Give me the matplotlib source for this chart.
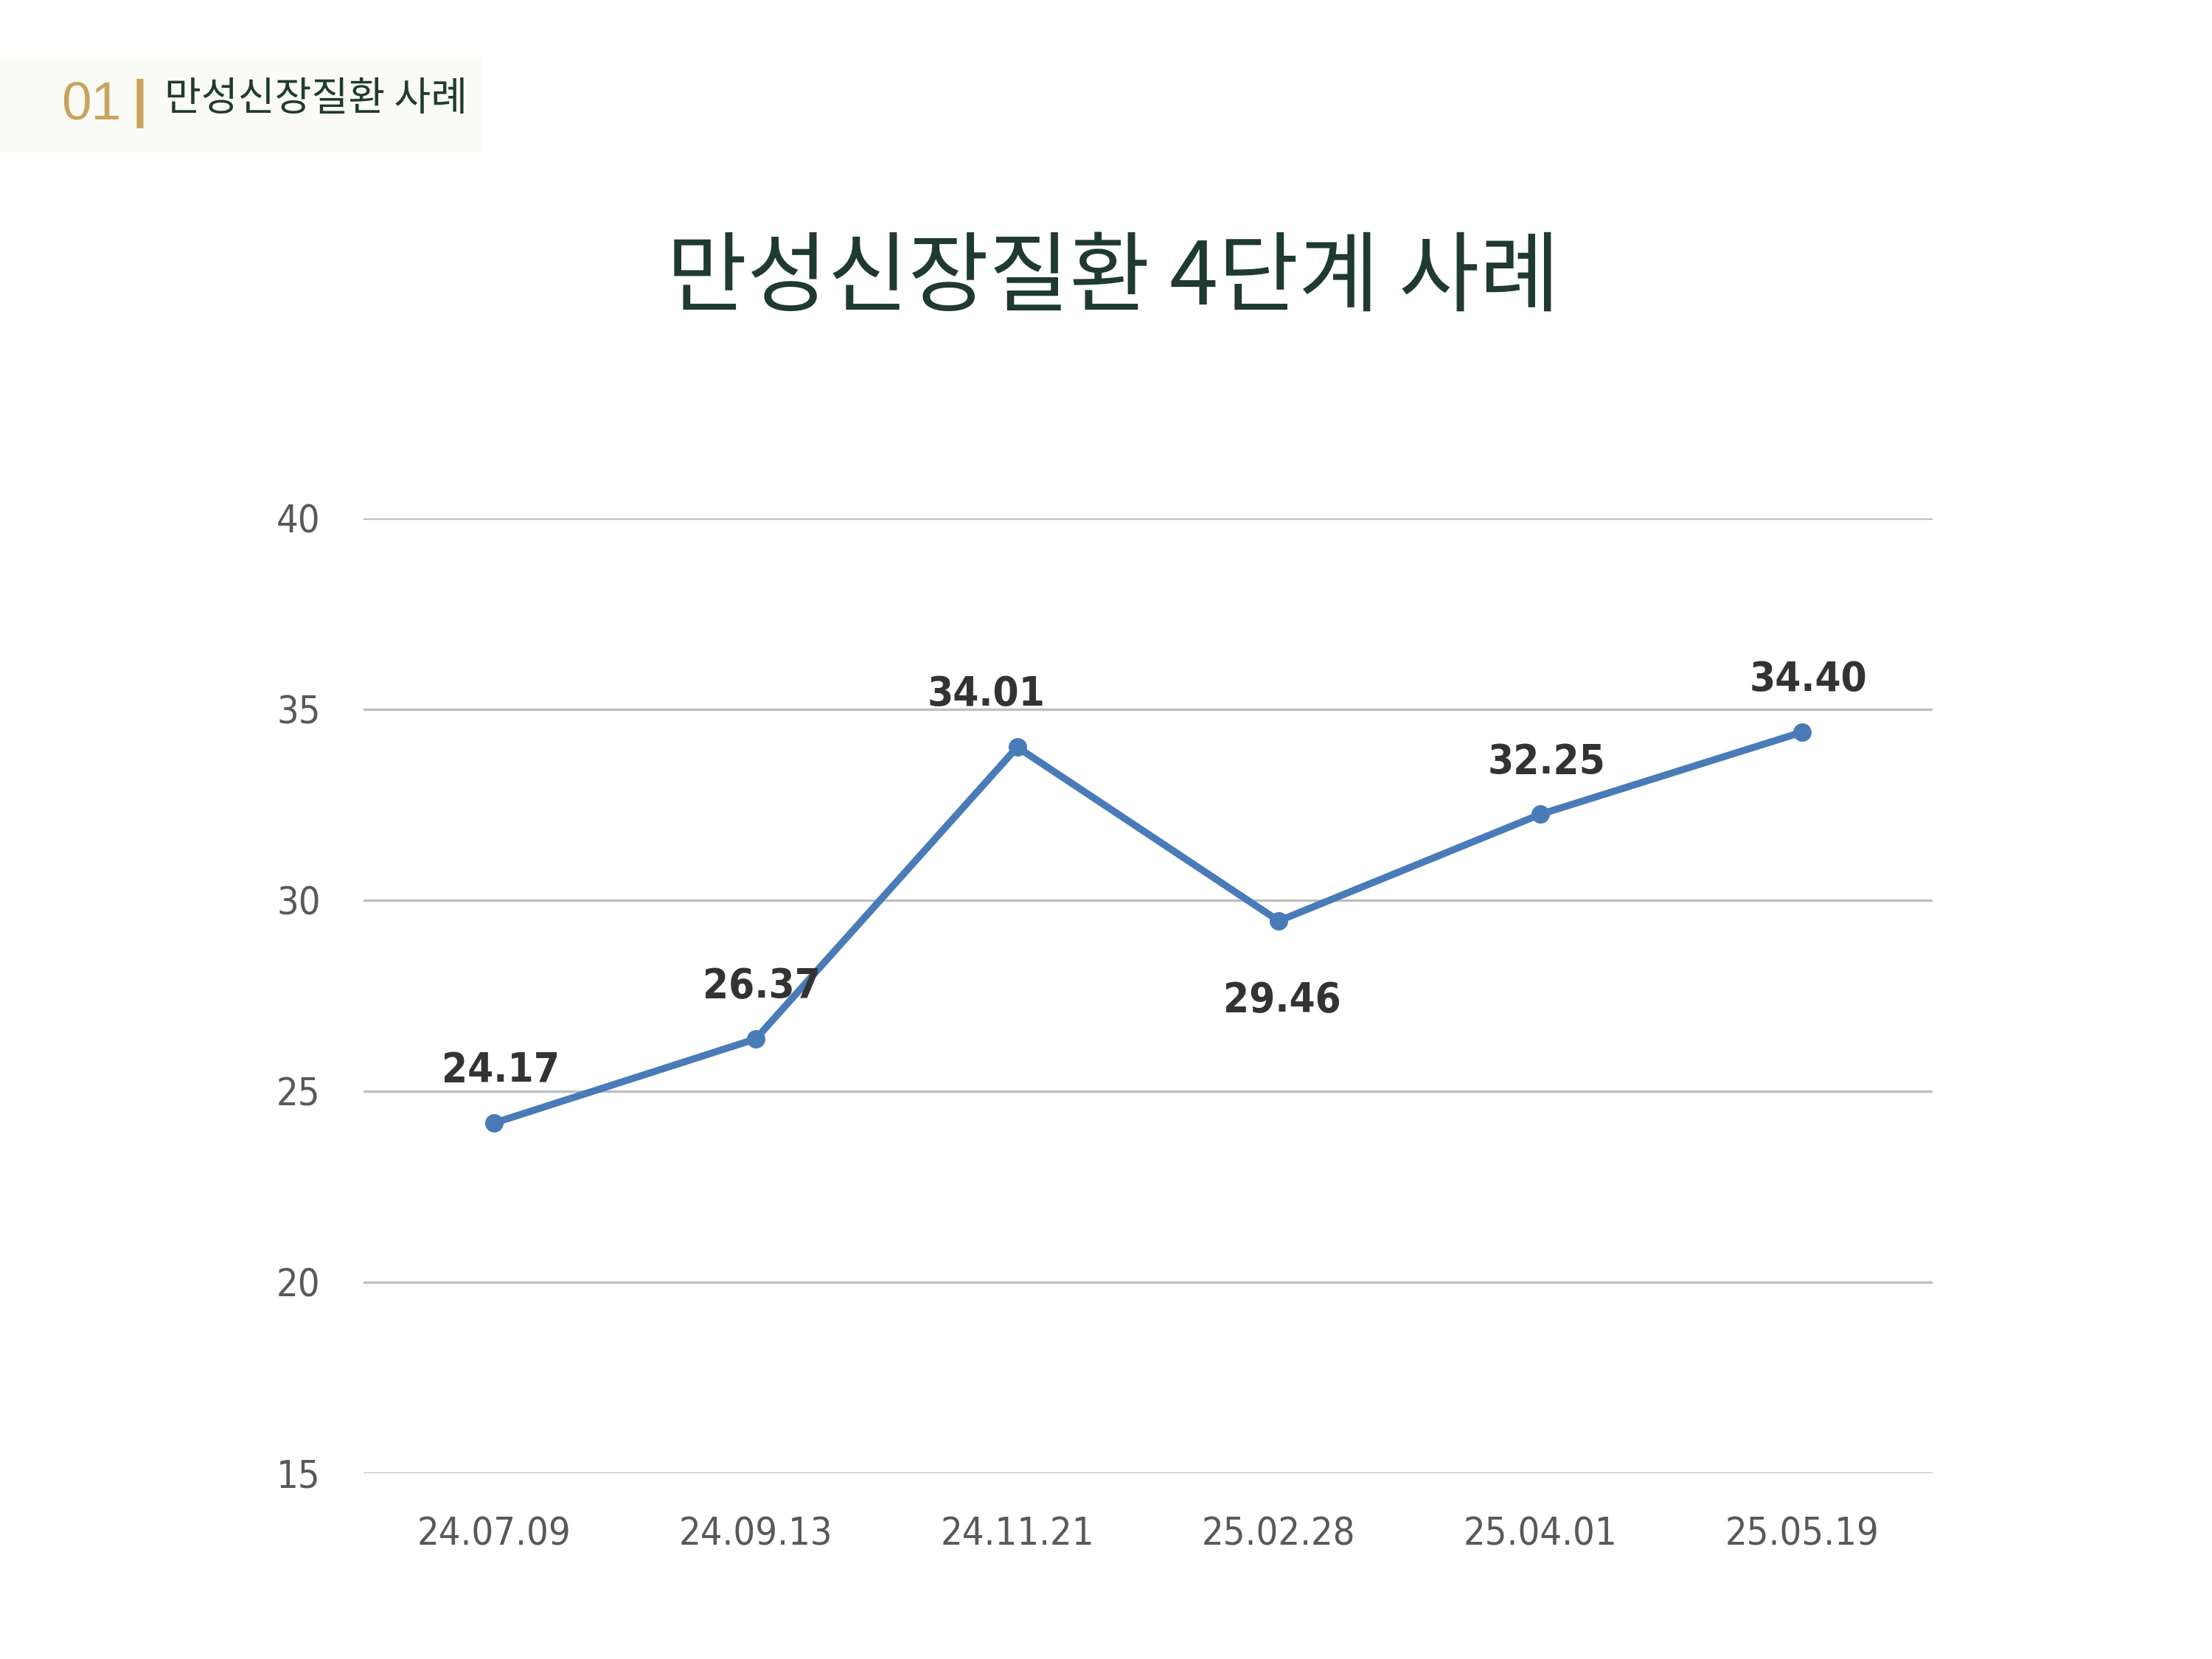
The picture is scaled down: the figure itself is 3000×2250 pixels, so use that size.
import matplotlib
matplotlib.use("Agg")
import matplotlib.pyplot as plt
from matplotlib.patches import Rectangle

plt.rcParams['font.family'] = ['Noto Sans CJK KR', 'DejaVu Sans']

# data
dates = ["24.07.09", "24.09.13", "24.11.21", "25.02.28", "25.04.01", "25.05.19"]
values = [24.17, 26.37, 34.01, 29.46, 32.25, 34.40]
label_below = [False, False, False, True, False, False]
yticks = [15, 20, 25, 30, 35, 40]

title = "만성신장질환 4단계 사례"
section_no = "01"
section_name = "만성신장질환 사례"

W, H = 3000, 2250
NUMFONT = ["DejaVu Sans", "Liberation Sans"]

fig = plt.figure(figsize=(10, 7.5), dpi=300)

# header box
fig.patches.append(Rectangle((0, 1 - 206 / H), 654 / W, 129 / H,
                             transform=fig.transFigure, facecolor="#FAFAF6",
                             edgecolor="none", zorder=0))
fig.text(83 / W, 1 - 143 / H, section_no, color="#C9A45E", fontsize=17.5,
         family=["Liberation Sans", "DejaVu Sans"], va="center", ha="left")
fig.text(190 / W, 1 - 140 / H, "|", color="#C9A45E", fontsize=17,
         family=["Liberation Sans", "DejaVu Sans"], va="center", ha="center",
         fontweight="bold")
fig.text(223 / W, 1 - 134 / H, section_name, color="#203A30", fontsize=13,
         va="center", ha="left")

fig.text(1510 / W, 1 - 379 / H, title, color="#1F3A30", fontsize=28.5,
         va="center", ha="center")

ax = fig.add_axes([493 / W, 1 - 1998 / H, (2621 - 493) / W, (1998 - 703) / H])
x = list(range(len(dates)))
ax.plot(x, values, color="#4A7BB9", lw=2.3, marker="o", ms=5,
        solid_capstyle="round", zorder=3)

# small horizontal nudges of the value labels (points)
nudge = [2, 2, -10, 1, 2, 2]
for xi, v, below, dx in zip(x, values, label_below, nudge):
    off = -26 if below else 17
    ax.annotate(f"{v:.2f}", (xi, v), xytext=(dx, off), textcoords="offset points",
                ha="center", va="center", fontsize=13.5, fontweight="bold",
                fontstretch="condensed", color="#333333", family=NUMFONT)

ax.set_xlim(-0.5, len(dates) - 0.5)
ax.set_ylim(15, 40)
ax.set_yticks(yticks)
ax.set_xticks(x)
ax.set_xticklabels(dates)
for lab in ax.get_xticklabels() + ax.get_yticklabels():
    lab.set_family(NUMFONT)
    lab.set_fontstretch("condensed")
    lab.set_color("#595959")
    lab.set_fontsize(12.5)
ax.tick_params(axis="both", length=0)
ax.tick_params(axis="y", pad=14)
ax.tick_params(axis="x", pad=14)
ax.grid(axis="y", color="#BFBFBF", lw=0.8)
ax.set_axisbelow(True)
for s in ax.spines.values():
    s.set_visible(False)

fig.savefig("out.png", dpi=300)
